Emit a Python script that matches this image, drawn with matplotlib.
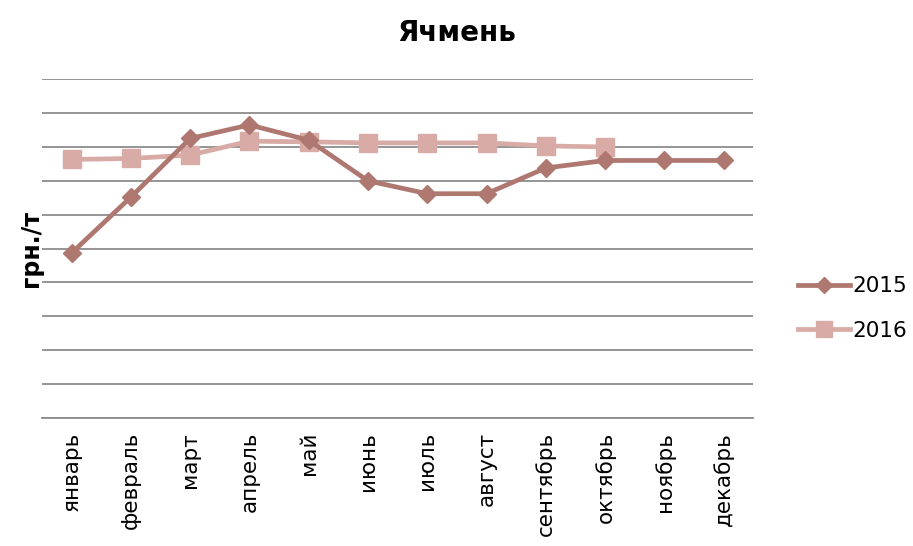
import matplotlib.pyplot as plt

# месяцы и значения (в условных единицах сетки, шкала без подписей)
months = ['январь', 'февраль', 'март', 'апрель', 'май', 'июнь', 'июль',
          'август', 'сентябрь', 'октябрь', 'ноябрь', 'декабрь']
y2015 = [4.87, 6.52, 8.25, 8.65, 8.2, 7.0, 6.62, 6.62, 7.38, 7.6, 7.6, 7.6]
y2016 = [7.63, 7.66, 7.76, 8.17, 8.15, 8.12, 8.12, 8.12, 8.03, 8.0]

c2015 = '#AE7870'
c2016 = '#D8ABA6'

fig = plt.figure(figsize=(9.13, 5.46), dpi=100)
ax = fig.add_axes([0.046, 0.2344, 0.779, 0.6206])

x = list(range(len(months)))
ax.plot(x, y2015, color=c2015, lw=3.4, marker='D', ms=9, label='2015', zorder=3)
ax.plot(x[:len(y2016)], y2016, color=c2016, lw=3.4, marker='s', ms=13, label='2016', zorder=2)

ax.set_xlim(-0.5, len(months) - 0.5)
ax.set_ylim(0, 10)
ax.set_yticks(range(0, 11))
ax.set_yticklabels([])
ax.yaxis.grid(True, color='#8c8c8c', lw=1.3)
ax.tick_params(axis='y', length=0)
ax.tick_params(axis='x', length=0, pad=10)
ax.set_xticks(x)
ax.set_xticklabels(months, rotation=90, fontsize=15.5)
for s in ['left', 'right', 'top']:
    ax.spines[s].set_visible(False)
ax.spines['bottom'].set_color('#8c8c8c')
ax.spines['bottom'].set_linewidth(1.3)

ax.set_ylabel('грн./т', fontsize=17, fontweight='bold', labelpad=-4)
fig.suptitle('Ячмень', fontsize=20, fontweight='bold', x=0.5, y=0.965)

fig.legend(loc='center left', bbox_to_anchor=(0.853, 0.435), frameon=False,
           fontsize=15.5, handlelength=2.4, handletextpad=0.1, labelspacing=1.15,
           markerscale=0.85)

fig.savefig('out.png', dpi=100)
